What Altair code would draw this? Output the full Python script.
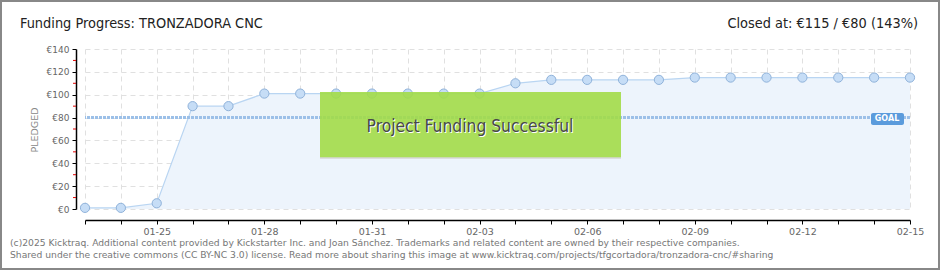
import altair as alt
import pandas as pd

# ---- data ----
dates = ["01-23", "01-24", "01-25", "01-26", "01-27", "01-28", "01-29", "01-30",
         "01-31", "02-01", "02-02", "02-03", "02-04", "02-05", "02-06", "02-07",
         "02-08", "02-09", "02-10", "02-11", "02-12", "02-13", "02-14", "02-15"]
pledged = [1, 1, 5, 90, 90, 101, 101, 101, 101, 101, 101, 101,
           110, 113, 113, 113, 113, 115, 115, 115, 115, 115, 115, 115]
y_ticks = [0, 20, 40, 60, 80, 100, 120, 140]
y_minor = [10, 30, 50, 70, 90, 110, 130]
x_label_dates = ["01-25", "01-28", "01-31", "02-03", "02-06", "02-09", "02-12", "02-15"]
goal = [80]
title_left = ["Funding Progress: TRONZADORA CNC"]
title_right = ["Closed at:  €115 / €80 (143%)"]
banner = ["Project Funding Successful"]
goal_label = ["GOAL"]
y_title = ["PLEDGED"]
footer = ["(c)2025 Kicktraq. Additional content provided by Kickstarter Inc. and Joan Sánchez. "
          "Trademarks and related content are owned by their respective companies.\n"
          "Shared under the creative commons (CC BY-NC 3.0) license. Read more about sharing "
          "this image at www.kicktraq.com/projects/tfgcortadora/tronzadora-cnc/#sharing"]

df = pd.DataFrame({"date": dates, "pledged": pledged})

W, H = 825, 160
LEFT, TOP = 85, 49
TITLE_FONT = "Liberation Sans Narrow, DejaVu Sans Condensed, Roboto, sans-serif"
SMALL_FONT = "DejaVu Sans, Verdana, sans-serif"

label_list = "[" + ",".join("'%s'" % d for d in x_label_dates) + "]"

x_scale = alt.Scale(type="point", padding=0, domain=dates)
x_axis = alt.Axis(
    values=dates, labelAngle=0, title=None, offset=11,
    labelExpr="indexof(%s, datum.value) >= 0 ? datum.value : ''" % label_list,
    grid=True, gridDash=[5, 4], gridColor="#e0e0e0", gridWidth=1,
    domainColor="black", domainWidth=1.5, tickColor="black", tickSize=4,
    labelColor="#666", labelFontSize=9.5, labelFont=SMALL_FONT, labelPadding=2,
    labelOverlap=False,
)
y_scale = alt.Scale(domain=[0, 140], nice=False, zero=True)
y_axis = alt.Axis(
    values=y_ticks, tickCount=8, labelExpr="'€' + datum.value", title=None, offset=9,
    grid=True, gridDash=[5, 4], gridColor="#e0e0e0", gridWidth=1,
    domainColor="black", domainWidth=1.5, tickColor="black", tickSize=4,
    labelColor="#666", labelFontSize=9, labelFont=SMALL_FONT, labelPadding=3,
    labelOverlap=False, labelFlush=False,
)


def X(field):
    return alt.X(field, scale=x_scale, axis=x_axis)


def Y(field):
    return alt.Y(field, scale=y_scale, axis=y_axis)


base = alt.Chart(df)
area = base.mark_area(color="#edf4fc", opacity=1).encode(x=X("date:O"), y=Y("pledged:Q"))
line = base.mark_line(color="#b9d5f2", strokeWidth=1.2).encode(x=X("date:O"), y=Y("pledged:Q"))
points = base.mark_circle(size=85, color="#c6ddf6", stroke="#8fb2da",
                          strokeWidth=1, opacity=1).encode(x=X("date:O"), y=Y("pledged:Q"))

goal_rule = alt.Chart(pd.DataFrame({"pledged": goal})).mark_rule(
    color="#9cc0e8", strokeWidth=3, strokeDash=[3, 1]
).encode(y=Y("pledged:Q"))

minor = alt.Chart(pd.DataFrame({"pledged": y_minor})).mark_rule(
    color="#e00000", strokeWidth=1
).encode(y=Y("pledged:Q"), x=alt.value(-12), x2=alt.value(-9))

box_df = pd.DataFrame({"t": banner})
box = alt.Chart(box_df).mark_rect(color="#a2dc48", opacity=0.9).encode(
    x=alt.value(235), x2=alt.value(536), y=alt.value(43), y2=alt.value(109))
box_edge = alt.Chart(box_df).mark_rule(color="#d6d6d6", strokeWidth=1.5).encode(
    x=alt.value(235), x2=alt.value(536), y=alt.value(109))
box_shadow = alt.Chart(box_df).mark_text(
    font=TITLE_FONT, fontSize=17.3, color="white", align="center", baseline="middle"
).encode(text="t:N", x=alt.value(386), y=alt.value(79))
box_text = alt.Chart(box_df).mark_text(
    font=TITLE_FONT, fontSize=17.3, color="#484848", align="center", baseline="middle"
).encode(text="t:N", x=alt.value(385), y=alt.value(78))

goal_df = pd.DataFrame({"t": goal_label})
goal_box = alt.Chart(goal_df).mark_rect(color="#5b9bdc", cornerRadius=2).encode(
    x=alt.value(786), x2=alt.value(819), y=alt.value(64), y2=alt.value(76))
goal_txt = alt.Chart(goal_df).mark_text(
    font=SMALL_FONT, fontSize=8, fontWeight="bold", color="white",
    align="center", baseline="middle"
).encode(text="t:N", x=alt.value(802), y=alt.value(70))

t_left = alt.Chart(pd.DataFrame({"t": title_left})).mark_text(
    font=TITLE_FONT, fontSize=14.4, color="#222", align="left", baseline="alphabetic"
).encode(text="t:N", x=alt.value(-65), y=alt.value(-21))
t_right = alt.Chart(pd.DataFrame({"t": title_right})).mark_text(
    font=TITLE_FONT, fontSize=14.4, color="#222", align="right", baseline="alphabetic"
).encode(text="t:N", x=alt.value(833), y=alt.value(-21))

ytitle = alt.Chart(pd.DataFrame({"t": y_title})).mark_text(
    font=SMALL_FONT, fontSize=9.5, color="#888888", angle=270,
    align="center", baseline="middle"
).encode(text="t:N", x=alt.value(-50), y=alt.value(81))

foot = alt.Chart(pd.DataFrame({"t": footer})).mark_text(
    font=SMALL_FONT, fontSize=9.2, color="#777", align="left", baseline="alphabetic",
    lineBreak="\n", lineHeight=12
).encode(text="t:N", x=alt.value(-75), y=alt.value(197))

border = alt.Chart(pd.DataFrame({"b": [1]})).mark_rect(
    fill=None, stroke="#888888", strokeWidth=2
).encode(x=alt.value(-84), x2=alt.value(854), y=alt.value(-48), y2=alt.value(220))

chart = alt.layer(
    area, line, goal_rule, points, minor, box, box_edge, box_shadow, box_text,
    goal_box, goal_txt, t_left, t_right, ytitle, foot, border
).properties(
    width=W, height=H,
    autosize=alt.AutoSizeParams(type="none"),
    padding={"left": LEFT, "top": TOP, "right": 940 - LEFT - W, "bottom": 270 - TOP - H},
    background="white",
).configure_view(stroke=None)

chart.save("out.html", embed_options={"renderer": "svg", "actions": False})
